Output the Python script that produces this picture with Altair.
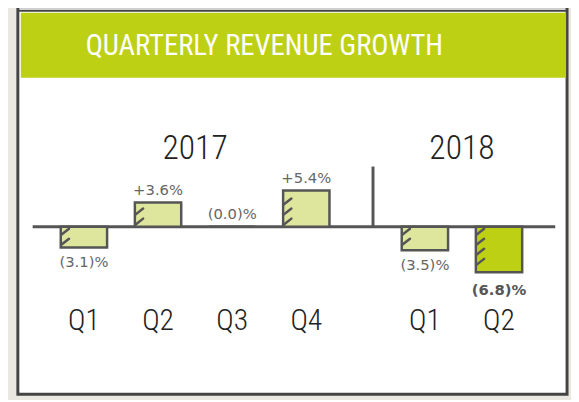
import altair as alt
import pandas as pd

# ---- data ----
years = ["2017", "2017", "2017", "2017", "2018", "2018"]
quarters = ["Q1", "Q2", "Q3", "Q4", "Q1", "Q2"]
growth = [-3.1, 3.6, 0.0, 5.4, -3.5, -6.8]
labels = ["(3.1)%", "+3.6%", "(0.0)%", "+5.4%", "(3.5)%", "(6.8)%"]
highlight = [False, False, False, False, False, True]
year_names = ["2017", "2018"]
title_text = "QUARTERLY REVENUE GROWTH"

# layout: slot position per bar (quarter index inside year + offset of year block)
year_offset = {"2017": 0.0, "2018": 4.6}
slots = []
counter = {}
for y in years:
    i = counter.get(y, 0)
    slots.append(year_offset[y] + i)
    counter[y] = i + 1

df = pd.DataFrame({
    "year": years, "quarter": quarters, "growth": growth,
    "label": labels, "highlight": highlight, "slot": slots,
})
df["sign"] = ["neg" if v < 0 else "pos" for v in growth]
ydf = pd.DataFrame({
    "year": year_names,
    "slot": [sum(s for s, y in zip(slots, years) if y == n) / years.count(n) for n in year_names],
})
one = pd.DataFrame({"a": [0]})

W, H = 571, 392
GREEN = "#bdd014"
PALE = "#dde69c"
DARK = "#555555"
X0, X1, S0, S1 = 72, 503, 0.0, 5.6
PX_PER_SLOT = (X1 - X0) / (S1 - S0)
BAR_PX = 47

# decorative hatch strokes along the left edge of each bar (derived from the bar values)
half = BAR_PX / 2 / PX_PER_SLOT
hx = 8 / PX_PER_SLOT
rows = []
for s, v in zip(slots, growth):
    off = 0.3
    sgn = 1 if v > 0 else -1
    while v != 0 and off + 0.8 < abs(v):
        lo, hi = (off, off + 0.9) if sgn > 0 else (-(off + 0.9), -off)
        rows.append({"xa": s - half, "xb": s - half + hx, "ya": lo, "yb": hi})
        off += 1.5
hatch_df = pd.DataFrame(rows)

xs = alt.Scale(domain=[S0, S1], range=[X0, X1], nice=False, zero=False)
ys = alt.Scale(domain=[-10, 10], range=[287, 151], nice=False, zero=False)

card = alt.Chart(one).mark_rect(fill="white", stroke="#444444", strokeWidth=3).encode(
    x=alt.value(10), x2=alt.value(567), y=alt.value(-4), y2=alt.value(389)
)
top_edge = alt.Chart(one).mark_rule(color="#444444", strokeWidth=2).encode(
    x=alt.value(10), x2=alt.value(567), y=alt.value(0)
)
band = alt.Chart(one).mark_rect(fill=GREEN).encode(
    x=alt.value(13), x2=alt.value(566), y=alt.value(2), y2=alt.value(68)
)
cond_font = "Roboto Condensed, DejaVu Sans Condensed, sans-serif"
title = alt.Chart(one).mark_text(
    text=title_text, font=cond_font, fontWeight=400,
    fontSize=29, color="white", align="center", baseline="middle"
).encode(x=alt.value(260), y=alt.value(36))

baseline = alt.Chart(one).mark_rule(color=DARK, strokeWidth=3).encode(
    x=alt.value(25), x2=alt.value(555), y=alt.Y(datum=0, scale=ys, axis=None)
)
divider = alt.Chart(one).mark_rule(color=DARK, strokeWidth=3).encode(
    x=alt.X(datum=3.9, scale=xs, axis=None), y=alt.value(158), y2=alt.value(219)
)

base = alt.Chart(df)
bars = base.mark_bar(size=BAR_PX, stroke=DARK, strokeWidth=2.5).encode(
    x=alt.X("slot:Q", scale=xs, axis=None),
    y=alt.Y("growth:Q", scale=ys, axis=None),
    y2=alt.Y2(datum=0),
    fill=alt.condition("datum.highlight", alt.value(GREEN), alt.value(PALE)),
)
hatch = alt.Chart(hatch_df).mark_rule(color=DARK, strokeWidth=2.5, strokeCap="round").encode(
    x=alt.X("xa:Q", scale=xs, axis=None), x2="xb:Q",
    y=alt.Y("ya:Q", scale=ys, axis=None), y2="yb:Q",
)

lab_font = "DejaVu Sans, sans-serif"
pos_lab = base.transform_filter("datum.sign == 'pos'").mark_text(
    font=lab_font, fontSize=15, color="#666666", baseline="bottom", dy=-5
).encode(x=alt.X("slot:Q", scale=xs, axis=None), y=alt.Y("growth:Q", scale=ys, axis=None), text="label:N")
neg_lab = base.transform_filter("datum.sign == 'neg' && !datum.highlight").mark_text(
    font=lab_font, fontSize=15, color="#666666", baseline="top", dy=8
).encode(x=alt.X("slot:Q", scale=xs, axis=None), y=alt.Y("growth:Q", scale=ys, axis=None), text="label:N")
hi_lab = base.transform_filter("datum.highlight").mark_text(
    font=lab_font, fontSize=15, fontWeight="bold", color="#555555", baseline="top", dy=11
).encode(x=alt.X("slot:Q", scale=xs, axis=None), y=alt.Y("growth:Q", scale=ys, axis=None), text="label:N")

qlab = base.mark_text(font=cond_font, fontWeight=300, fontSize=30, color="#222222", baseline="middle").encode(
    x=alt.X("slot:Q", scale=xs, axis=None), y=alt.value(315), text="quarter:N"
)
ylab = alt.Chart(ydf).mark_text(font=cond_font, fontWeight=300, fontSize=34, color="#222222", baseline="middle").encode(
    x=alt.X("slot:Q", scale=xs, axis=None), y=alt.value(140), text="year:N"
)

chart = alt.layer(
    card, top_edge, band, title, baseline, divider, bars, hatch, pos_lab, neg_lab, hi_lab, qlab, ylab
).properties(
    width=W, height=H, padding=0, autosize=alt.AutoSizeParams(type="none"), background="#ebe8e2"
).configure_view(stroke=None)

chart.save("out.html", embed_options={"renderer": "svg", "actions": False})
